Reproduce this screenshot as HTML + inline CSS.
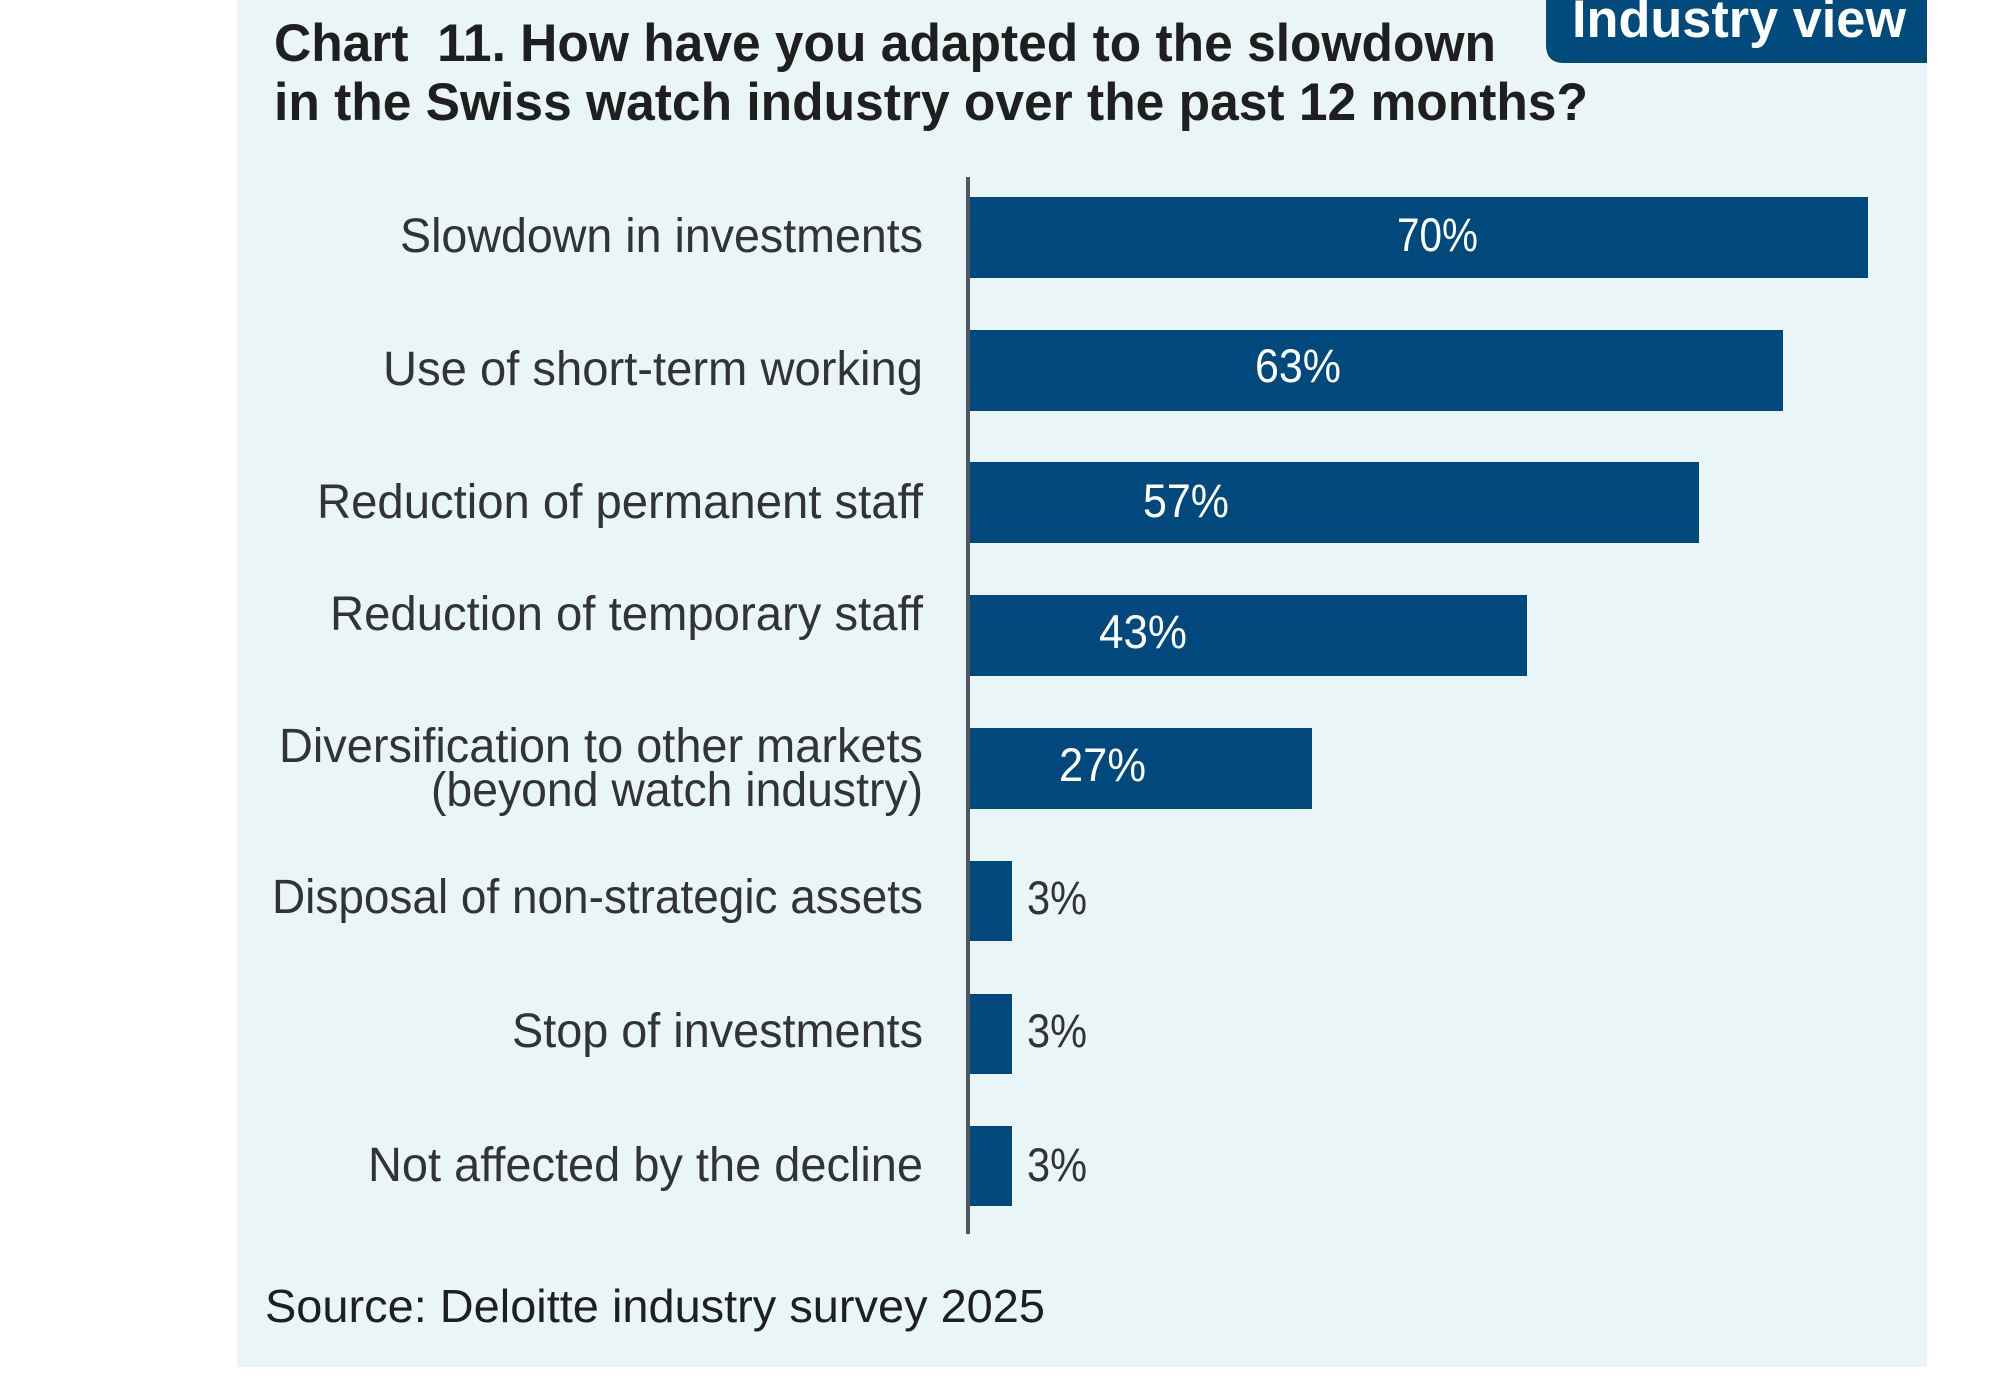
<!DOCTYPE html>
<html>
<head>
<meta charset="utf-8">
<style>
  html,body{margin:0;padding:0;background:#ffffff;}
  svg{display:block;}
  .lab{font-family:"Liberation Sans",sans-serif;font-size:48px;fill:#333333;}
  .val{font-family:"Liberation Sans",sans-serif;font-size:47px;}
  .ttl{font-family:"Liberation Sans",sans-serif;font-size:53px;font-weight:700;fill:#1f1f1f;white-space:pre;}
</style>
</head>
<body>
<svg width="2000" height="1378" viewBox="0 0 2000 1378" xmlns="http://www.w3.org/2000/svg">
  <!-- panel -->
  <rect x="237" y="0" width="1690" height="1367" fill="#eaf5f7"/>

  <!-- badge -->
  <path d="M1546,-10 L1927,-10 L1927,63 L1564,63 Q1546,63 1546,45 Z" fill="#004a7c"/>
  <text x="1572" y="37" class="ttl" style="fill:#ffffff" textLength="334" lengthAdjust="spacingAndGlyphs">Industry view</text>

  <!-- title -->
  <text x="274" y="61" class="ttl" textLength="1222" lengthAdjust="spacingAndGlyphs">Chart&#160; 11. How have you adapted to the slowdown</text>
  <text x="274" y="120" class="ttl" textLength="1314" lengthAdjust="spacingAndGlyphs">in the Swiss watch industry over the past 12 months?</text>

  <!-- bars -->
  <g fill="#01497c">
    <rect x="970" y="197" width="898" height="81"/>
    <rect x="970" y="330" width="813" height="81"/>
    <rect x="970" y="462" width="729" height="81"/>
    <rect x="970" y="595" width="557" height="81"/>
    <rect x="970" y="728" width="342" height="81"/>
    <rect x="970" y="861" width="42" height="80"/>
    <rect x="970" y="994" width="42" height="80"/>
    <rect x="970" y="1126" width="42" height="80"/>
  </g>

  <!-- axis -->
  <rect x="966" y="177" width="4" height="1057" fill="#50555e"/>

  <!-- category labels -->
  <g class="lab" text-anchor="end">
    <text x="923" y="252" textLength="523" lengthAdjust="spacingAndGlyphs">Slowdown in investments</text>
    <text x="923" y="385" textLength="540" lengthAdjust="spacingAndGlyphs">Use of short-term working</text>
    <text x="923" y="518" textLength="606" lengthAdjust="spacingAndGlyphs">Reduction of permanent staff</text>
    <text x="923" y="630" textLength="593" lengthAdjust="spacingAndGlyphs">Reduction of temporary staff</text>
    <text x="923" y="762" textLength="644" lengthAdjust="spacingAndGlyphs">Diversification to other markets</text>
    <text x="923" y="806" textLength="492" lengthAdjust="spacingAndGlyphs">(beyond watch industry)</text>
    <text x="923" y="913" textLength="651" lengthAdjust="spacingAndGlyphs">Disposal of non-strategic assets</text>
    <text x="923" y="1047" textLength="411" lengthAdjust="spacingAndGlyphs">Stop of investments</text>
    <text x="923" y="1181" textLength="555" lengthAdjust="spacingAndGlyphs">Not affected by the decline</text>
  </g>

  <!-- value labels -->
  <g class="val" fill="#ffffff">
    <text x="1397" y="251" textLength="81" lengthAdjust="spacingAndGlyphs">70%</text>
    <text x="1255" y="382" textLength="86" lengthAdjust="spacingAndGlyphs">63%</text>
    <text x="1143" y="517" textLength="86" lengthAdjust="spacingAndGlyphs">57%</text>
    <text x="1099" y="648" textLength="88" lengthAdjust="spacingAndGlyphs">43%</text>
    <text x="1059" y="781" textLength="87" lengthAdjust="spacingAndGlyphs">27%</text>
  </g>
  <g class="val" fill="#333333">
    <text x="1027" y="914" textLength="60" lengthAdjust="spacingAndGlyphs">3%</text>
    <text x="1027" y="1047" textLength="60" lengthAdjust="spacingAndGlyphs">3%</text>
    <text x="1027" y="1181" textLength="60" lengthAdjust="spacingAndGlyphs">3%</text>
  </g>

  <!-- source -->
  <text x="265" y="1322" style="font-family:'Liberation Sans',sans-serif;font-size:46px;fill:#1f1f1f" textLength="780" lengthAdjust="spacingAndGlyphs">Source: Deloitte industry survey 2025</text>
</svg>
</body>
</html>
